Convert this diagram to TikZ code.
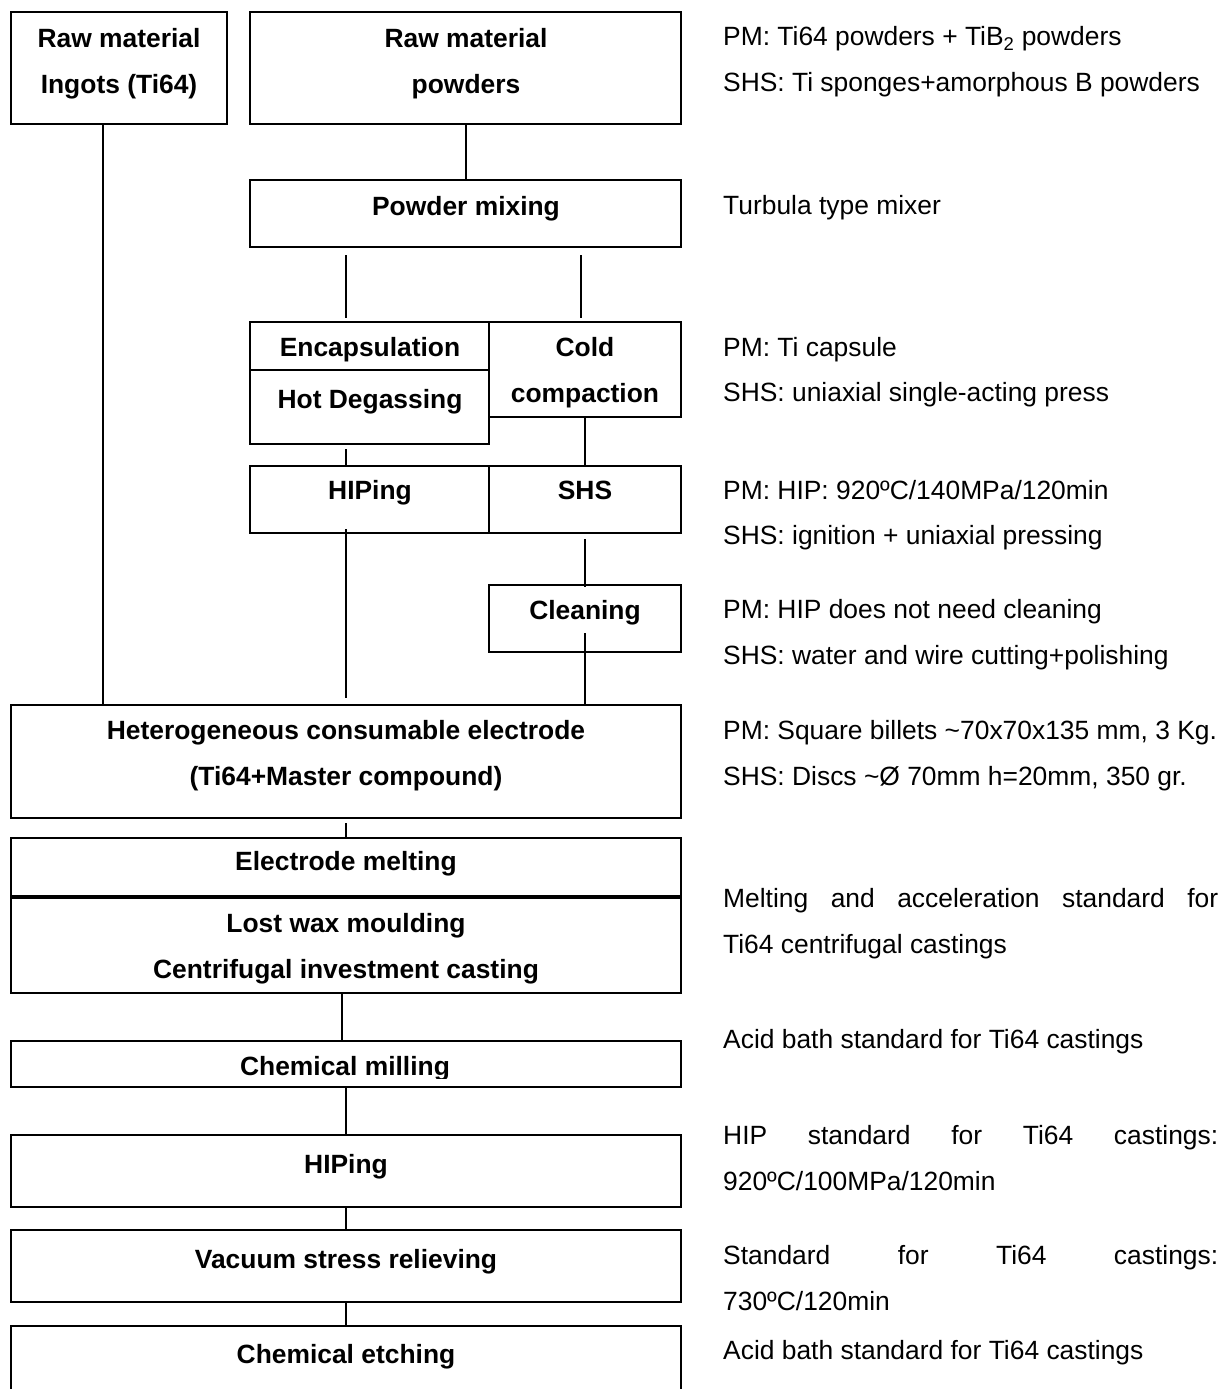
\documentclass[tikz,border=0pt]{standalone}
\usepackage{fontspec}
\setmainfont{Liberation Sans}
\usetikzlibrary{fit}
\begin{document}
\begin{tikzpicture}[x=1pt,y=-1pt,
  box/.style={draw, line width=1.8pt, inner sep=0pt, outer sep=0pt},
  conn/.style={line width=1.8pt},
  lbl/.style={font=\fontsize{26.4}{30}\selectfont\bfseries, inner sep=0pt, anchor=base},
  note/.style={font=\fontsize{26.4}{30}\selectfont, inner sep=0pt, anchor=base west}]
\path[use as bounding box, fill=white] (0,0) rectangle (1228,1389);
\clip (0,0) rectangle (1228,1389);

% boxes
\node[box, fit={(11,12) (227,124)}] (ingots) {};
\node[box, fit={(250,12) (681,124)}] (powders) {};
\node[box, fit={(250,180) (681,247)}] (mixing) {};
\node[box, fit={(250,322) (489,370)}] (encap) {};
\node[box, fit={(250,370) (489,444)}] (degas) {};
\node[box, fit={(489,322) (681,417)}] (cold) {};
\node[box, fit={(250,466) (489,533)}] (hip1) {};
\node[box, fit={(489,466) (681,533)}] (shs) {};
\node[box, fit={(489,585) (681,652)}] (clean) {};
\node[box, fit={(11,705) (681,818)}] (hetero) {};
\node[box, fit={(11,838) (681,896)}] (melt) {};
\node[box, fit={(11,898) (681,993)}] (wax) {};
\node[box, fit={(11,1041) (681,1087)}] (mill) {};
\node[box, fit={(11,1135) (681,1207)}] (hip2) {};
\node[box, fit={(11,1230) (681,1302)}] (vac) {};
\node[box, fit={(11,1326) (681,1420)}] (etch) {};

% connector columns
\coordinate (xa) at (103,0);
\coordinate (xb) at (346,0);
\coordinate (xc) at (466,0);
\coordinate (xd) at (581,0);
\coordinate (xe) at (585,0);
\coordinate (xf) at (342,0);

\draw[conn] (ingots.south -| xa) -- (hetero.north -| xa);
\draw[conn] (powders.south -| xc) -- (mixing.north -| xc);
\draw[conn, shorten <=8pt, shorten >=4pt] (mixing.south -| xb) -- (encap.north -| xb);
\draw[conn, shorten <=8pt, shorten >=4pt] (mixing.south -| xd) -- (cold.north -| xd);
\draw[conn] (cold.south -| xe) -- (shs.north -| xe);
\draw[conn, shorten <=5pt] (degas.south -| xb) -- (hip1.north -| xb);
\draw[conn, shorten <=-4pt, shorten >=7pt] (hip1.south -| xb) -- (hetero.north -| xb);
\draw[conn, shorten <=6pt, shorten >=-2pt] (shs.south -| xe) -- (clean.north -| xe);
\draw[conn, shorten <=-19pt] (clean.south -| xe) -- (hetero.north -| xe);
\draw[conn, shorten <=5pt] (hetero.south -| xb) -- (melt.north -| xb);
\draw[conn] (wax.south -| xf) -- (mill.north -| xf);
\draw[conn] (mill.south -| xb) -- (hip2.north -| xb);
\draw[conn] (hip2.south -| xb) -- (vac.north -| xb);
\draw[conn] (vac.south -| xb) -- (etch.north -| xb);

% box labels
\node[lbl] (t1a) at (119,48) {Raw material};
\node[lbl] (t1b) at (119,93) {Ingots (Ti64)};
\node[lbl] (t2a) at (466,48) {Raw material};
\node[lbl] (t2b) at (466,93) {powders};
\node[lbl] (t3) at (466,215) {Powder mixing};
\node[lbl] (t4) at (370,356) {Encapsulation};
\node[lbl] (t5) at (370,408) {Hot Degassing};
\node[lbl] (t6a) at (585,356) {Cold};
\node[lbl] (t6b) at (585,402) {compaction};
\node[lbl] (t7) at (370,499) {HIPing};
\node[lbl] (t8) at (585,499) {SHS};
\node[lbl] (t9) at (585,619) {Cleaning};
\node[lbl] (t10a) at (346,739) {Heterogeneous consumable electrode};
\node[lbl] (t10b) at (346,785) {(Ti64+Master compound)};
\node[lbl] (t11) at (346,870) {Electrode melting};
\node[lbl] (t12a) at (346,932) {Lost wax moulding};
\node[lbl] (t12b) at (346,978) {Centrifugal investment casting};
\begin{scope}
\clip (0,1041) rectangle (700,1078);
\node[lbl] (t13) at (345,1075) {Chemical milling};
\end{scope}
\node[lbl] (t14) at (346,1173) {HIPing};
\node[lbl] (t15) at (346,1268) {Vacuum stress relieving};
\node[lbl] (t16) at (346,1363) {Chemical etching};

% notes
\node[note] (n1) at (723,46) {PM: Ti64 powders + TiB\textsubscript{2} powders};
\node[note] (n2) at (723,92) {SHS: Ti sponges+amorphous B powders};
\node[note] (n3) at (723,214) {Turbula type mixer};
\node[note] (n4) at (723,356) {PM: Ti capsule};
\node[note] (n5) at (723,401) {SHS: uniaxial single-acting press};
\node[note] (n6) at (723,499) {PM: HIP: 920ºC/140MPa/120min};
\node[note] (n7) at (723,544) {SHS: ignition + uniaxial pressing};
\node[note] (n8) at (723,618) {PM: HIP does not need cleaning};
\node[note] (n9) at (723,664) {SHS: water and wire cutting+polishing};
\node[note] (n10) at (723,739) {PM: Square billets \textasciitilde 70x70x135 mm, 3 Kg.};
\node[note] (n11) at (723,785) {SHS: Discs \textasciitilde Ø 70mm h=20mm, 350 gr.};
\node[note] (n12) at (723,907) {\makebox[495pt][s]{Melting and acceleration standard for}};
\node[note] (n13) at (723,953) {Ti64 centrifugal castings};
\node[note] (n14) at (723,1048) {Acid bath standard for Ti64 castings};
\node[note] (n15) at (723,1144) {\makebox[495pt][s]{HIP standard for Ti64 castings:}};
\node[note] (n16) at (723,1190) {920ºC/100MPa/120min};
\node[note] (n17) at (723,1264) {\makebox[495pt][s]{Standard for Ti64 castings:}};
\node[note] (n18) at (723,1310) {730ºC/120min};
\node[note] (n19) at (723,1359) {Acid bath standard for Ti64 castings};
\end{tikzpicture}
\end{document}
